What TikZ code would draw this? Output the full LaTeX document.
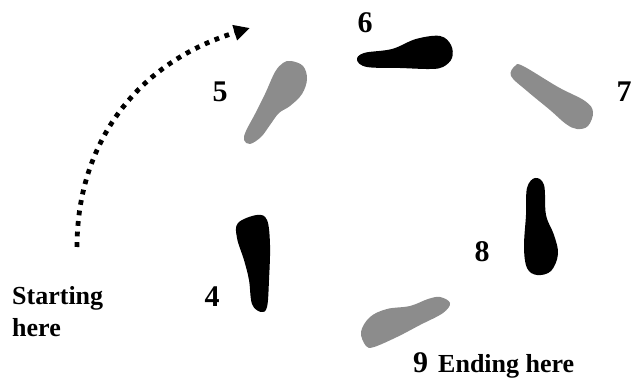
\documentclass[tikz,border=0pt]{standalone}
\usepackage{fontspec}
\setmainfont{Liberation Serif}
\usetikzlibrary{arrows.meta}
\definecolor{footgray}{RGB}{140,140,140}
\tikzset{
  num/.style={font=\bfseries\fontsize{30}{32}\selectfont, inner sep=0pt, anchor=base},
  txt/.style={font=\bfseries\fontsize{26}{32}\selectfont, inner sep=0pt},
  darkfoot/.style={fill=black},
  lightfoot/.style={fill=footgray},
  route/.style={line width=4.8pt, dash pattern=on 4.8pt off 5.8pt, -{Triangle[length=16pt,width=15pt]}}
}
\begin{document}
\begin{tikzpicture}[x=1pt,y=-1pt]
\useasboundingbox (0,0) rectangle (632,379);
% footprints
\fill[lightfoot] plot[smooth cycle, tension=0.6] coordinates {(291,61) (303,66) (307,79) (302,94) (290,106) (279,113) (270,125) (261,137) (250,144) (244,140) (246,131) (255,114) (265,94) (275,72) (283,63)};
\fill[darkfoot] plot[smooth cycle, tension=0.6] coordinates {(357,60) (364,53) (392,49) (416,39) (440,36) (451,45) (452,58) (443,67) (430,69) (400,68) (367,67)};
\fill[lightfoot] plot[smooth cycle, tension=0.6] coordinates {(515,66) (523,66) (558,87) (585,101) (593,112) (588,126) (577,129) (566,124) (550,110) (527,91) (511,76)};
\fill[darkfoot] plot[smooth cycle, tension=0.6] coordinates {(535,178) (544,185) (546,215) (554,235) (558,254) (551,271) (537,275) (527,268) (524,247) (526,215) (527,188)};
\fill[lightfoot] plot[smooth cycle, tension=0.6] coordinates {(450,303) (440,297) (428,299) (410,306) (387,309) (370,317) (361,332) (366,346) (374,347) (397,337) (420,325) (443,313)};
\fill[darkfoot] plot[smooth cycle, tension=0.6] coordinates {(257,215) (267,220) (270,245) (269,280) (267,307) (261,312) (252,304) (249,280) (244,260) (237,238) (238,223)};
% labels
\node[num] (n5) at (220,102) {5};
\node[num] (n6) at (365,33) {6};
\node[num] (n7) at (624,102) {7};
\node[num] (n8) at (482,262) {8};
\node[num] (n4) at (212,307) {4};
\node[inner sep=0pt, anchor=base west] (n9) at (413,372) {\bfseries\fontsize{30}{32}\selectfont 9\hspace{10pt}\fontsize{26}{32}\selectfont Ending here};
\node[txt, anchor=base west, align=left] (start) at (12,337) {Starting\\here};
% route arrow
\coordinate (a0) at (77,247);
\coordinate (a1) at (250,28);
\draw[route] (a0) .. controls (77,150) and (130,65) .. (a1);
\end{tikzpicture}
\end{document}
